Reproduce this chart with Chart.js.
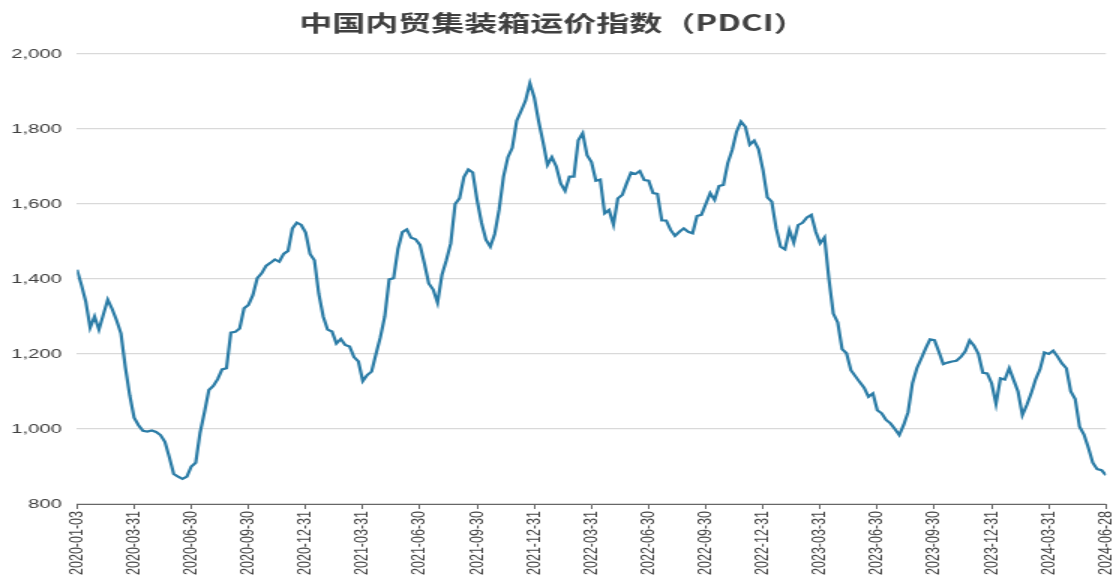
<!DOCTYPE html>
<html><head><meta charset="utf-8">
<script src="https://cdn.jsdelivr.net/npm/chart.js@4.4.1/dist/chart.umd.min.js"></script>
<style>
html,body{margin:0;padding:0;background:#fff;overflow:hidden;}
#wrap{width:742px;height:578px;transform:scaleX(1.5);transform-origin:0 0;}
</style></head><body>
<div id="wrap"><canvas id="c" width="742" height="578"></canvas></div>
<script>
const chartTitle = '中国内贸集装箱运价指数（PDCI）';
const startDate = '2020-01-03';
const tickLabels = ['2020-01-03','2020-03-31','2020-06-30','2020-09-30','2020-12-31',
  '2021-03-31','2021-06-30','2021-09-30','2021-12-31','2022-03-31','2022-06-30',
  '2022-09-30','2022-12-31','2023-03-31','2023-06-30','2023-09-30','2023-12-31',
  '2024-03-31','2024-06-28'];
// weekly PDCI values, from 2020-01-03 to 2024-06-28
const pdci = [
  1425,1385,1340,1270,1300,1265,1305,1345,1320,1290,
  1255,1165,1090,1030,1010,995,993,996,992,984,
  966,925,880,873,867,873,900,910,990,1045,
  1104,1115,1133,1159,1162,1257,1259,1268,1322,1331,
  1357,1402,1415,1435,1443,1452,1446,1467,1475,1535,
  1550,1544,1524,1467,1450,1360,1300,1265,1260,1228,
  1240,1224,1220,1192,1180,1128,1144,1153,1200,1245,
  1300,1399,1402,1480,1525,1532,1510,1506,1491,1442,
  1388,1372,1337,1411,1450,1495,1600,1615,1672,1692,
  1684,1610,1550,1505,1486,1520,1585,1673,1725,1750,
  1822,1848,1875,1922,1884,1820,1765,1704,1725,1700,
  1655,1635,1673,1673,1770,1789,1730,1712,1662,1665,
  1575,1584,1545,1615,1624,1655,1684,1680,1688,1664,
  1662,1629,1627,1556,1556,1531,1515,1526,1535,1526,
  1522,1568,1571,1600,1629,1611,1648,1651,1709,1744,
  1793,1820,1806,1758,1769,1746,1691,1618,1606,1535,
  1486,1479,1531,1497,1544,1550,1564,1571,1526,1495,
  1511,1400,1308,1284,1213,1202,1157,1141,1125,1110,
  1086,1095,1050,1042,1024,1015,1000,984,1011,1045,
  1122,1162,1188,1215,1239,1237,1206,1173,1177,1180,
  1182,1192,1207,1236,1222,1200,1150,1148,1122,1067,
  1135,1132,1162,1131,1100,1037,1064,1095,1132,1159,
  1204,1200,1209,1193,1175,1162,1100,1080,1006,985,
  950,910,893,890,877
];
const yMin = 800, yMax = 2000, yStep = 200;

const span = (pdci.length - 1) * 7;
const tickStep = span / (tickLabels.length - 1);
const points = pdci.map((v, i) => ({x: i * 7, y: v}));

new Chart(document.getElementById('c'), {
  type: 'line',
  data: { datasets: [{
    data: points,
    borderColor: '#2b7ca6',
    borderWidth: 2.2,
    pointRadius: 0,
    tension: 0,
    fill: false
  }]},
  options: {
    responsive: false,
    animation: false,
    devicePixelRatio: 1,
    layout: { padding: { left: 0, right: 4.7, top: 0, bottom: 0 } },
    plugins: {
      legend: { display: false },
      tooltip: { enabled: false },
      title: {
        display: true,
        text: chartTitle,
        color: '#404040',
        font: { family: "'Noto Sans CJK SC', sans-serif", size: 22, weight: 'bold' },
        padding: { top: 9, bottom: 18.6 }
      }
    },
    scales: {
      x: {
        type: 'linear',
        min: 0,
        max: span,
        grid: { drawOnChartArea: false, drawTicks: true, tickLength: 5, color: '#666' },
        border: { display: true, color: '#666', width: 1 },
        afterBuildTicks: (s) => { s.ticks = tickLabels.map((_, k) => ({ value: k * tickStep })); },
        afterFit: (s) => { s.height = 74; s.paddingLeft = 0; s.paddingRight = 0; },
        ticks: {
          autoSkip: false,
          minRotation: 90,
          maxRotation: 90,
          padding: 2,
          color: '#404040',
          font: { family: "'Liberation Sans', Arial, sans-serif", size: 12.5 },
          callback: (v, i) => tickLabels[i]
        }
      },
      y: {
        min: yMin,
        max: yMax,
        grid: { color: '#d9d9d9', lineWidth: 1.2, drawTicks: false },
        border: { display: false },
        afterFit: (s) => { s.width = 51.3; },
        ticks: {
          stepSize: yStep,
          padding: 10,
          color: '#404040',
          font: { family: "'Liberation Sans', Arial, sans-serif", size: 13.5 },
          callback: (v) => v.toLocaleString('en-US')
        }
      }
    }
  }
});
</script>
</body></html>
